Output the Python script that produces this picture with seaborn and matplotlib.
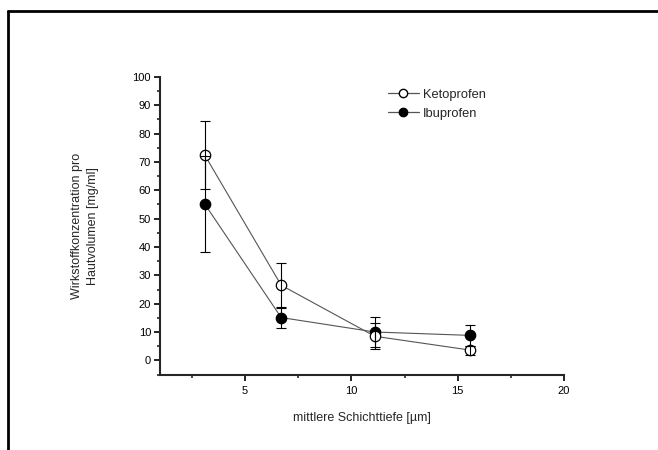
import numpy as np
import pandas as pd
import seaborn as sns
import matplotlib
matplotlib.use('Agg')
import matplotlib.pyplot as plt
from matplotlib.lines import Line2D
from matplotlib.ticker import MultipleLocator

# mean layer depth [um]
depth = [3.1, 6.7, 11.1, 15.6]

# Ketoprofen
keto = [72.5, 26.5, 8.5, 3.6]
keto_err = [12.0, 8.0, 4.6, 1.6]

# Ibuprofen
ibu = [55.2, 15.1, 10.0, 8.8]
ibu_err = [17.0, 3.6, 5.2, 3.6]

sns.set_style('ticks')
plt.rcParams['font.family'] = ['Liberation Sans', 'DejaVu Sans']

df = pd.DataFrame({
    'depth': depth * 2,
    'conc': keto + ibu,
    'err': keto_err + ibu_err,
    'drug': ['Ketoprofen'] * 4 + ['Ibuprofen'] * 4,
})

fig = plt.figure(figsize=(6.58, 4.5), dpi=100)
ax = fig.add_axes([160 / 658, 1 - 374.5 / 450, (564 - 160) / 658, (374.5 - 77) / 450])

line_col = '#555555'
styles = {'Ibuprofen': 'black', 'Ketoprofen': 'white'}
for drug in ['Ibuprofen', 'Ketoprofen']:
    sub = df[df['drug'] == drug]
    sns.lineplot(data=sub, x='depth', y='conc', ax=ax, color=line_col, linewidth=0.8,
                 marker='o', markersize=7.5, markerfacecolor=styles[drug],
                 markeredgecolor='black', markeredgewidth=0.9, zorder=3)
    ax.errorbar(sub['depth'], sub['conc'], yerr=sub['err'], fmt='none', ecolor='black',
                elinewidth=0.8, capsize=3.5, capthick=0.8, zorder=4)

ax.set_xlim(1, 20)
ax.set_ylim(-5, 100)
ax.xaxis.set_major_locator(MultipleLocator(5))
ax.xaxis.set_minor_locator(MultipleLocator(2.5))
ax.yaxis.set_major_locator(MultipleLocator(10))
ax.yaxis.set_minor_locator(MultipleLocator(5))
ax.set_yticks(np.arange(0, 101, 10))
ax.tick_params(which='major', length=4, width=1.2, labelsize=8, colors='black', pad=2.5)
ax.tick_params(axis='x', which='major', pad=4)
ax.tick_params(which='minor', length=2.5, width=1.2)
for s in ['left', 'bottom']:
    ax.spines[s].set_linewidth(1.5)
sns.despine(ax=ax)
ax.spines['left'].set_bounds(-5, 100)

ax.set_xlabel('mittlere Schichttiefe [µm]', fontsize=9, labelpad=12)
ax.set_ylabel('Wirkstoffkonzentration pro\nHautvolumen [mg/ml]', fontsize=9, labelpad=24,
              linespacing=1.45)

handles = [
    Line2D([], [], color=line_col, linewidth=0.9, marker='o', markersize=6,
           markerfacecolor='white', markeredgecolor='black'),
    Line2D([], [], color=line_col, linewidth=0.9, marker='o', markersize=6,
           markerfacecolor='black', markeredgecolor='black'),
]
ax.legend(handles, ['Ketoprofen', 'Ibuprofen'], frameon=False, fontsize=9.3,
          loc='upper left', bbox_to_anchor=(0.535, 1.0), handlelength=2.4,
          handletextpad=0.3, labelspacing=0.55)

# page frame
fig.add_artist(Line2D([8 / 658, 1], [1 - 10.5 / 450] * 2, color='black', linewidth=2,
                      transform=fig.transFigure))
fig.add_artist(Line2D([8 / 658] * 2, [0, 1 - 10.5 / 450], color='black', linewidth=2,
                      transform=fig.transFigure))

fig.savefig('out.png', dpi=100)
